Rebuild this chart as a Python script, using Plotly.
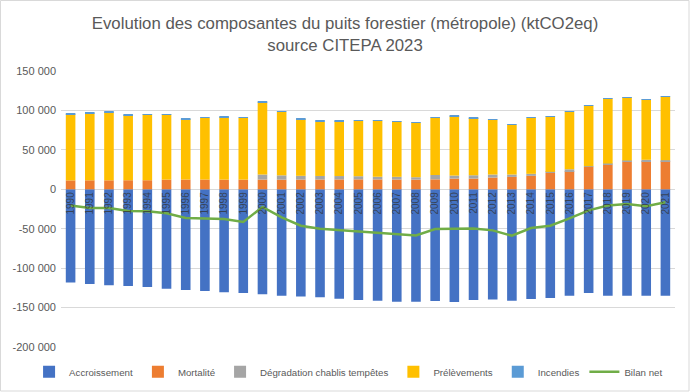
import plotly.graph_objects as go

years = [str(y) for y in range(1990, 2022)]

accroissement = [-118300, -120000, -121600, -122500, -123800, -126000, -127600, -128900,
                 -130500, -131400, -133100, -134900, -136100, -136900, -138700, -140300,
                 -141200, -142500, -142500, -141600, -142900, -140300, -139900, -141200,
                 -139100, -137800, -134900, -131400, -134900, -134900, -134900, -134900]
mortalite = [11300, 11400, 11400, 11500, 11500, 12300, 12400, 12400, 12300, 12300,
             12300, 12200, 12300, 12400, 12500, 12600, 12500, 12400, 12300, 12600,
             13600, 13600, 14900, 15700, 17000, 20800, 22900, 28500, 31400, 35200,
             35600, 35600]
degradation = [0, 0, 0, 0, 0, 0, 0, 0, 0, 0,
               6400, 5500, 4800, 4500, 4300, 4000, 3400, 3400, 3000, 5500,
               3800, 4200, 3800, 3000, 2600, 1300, 2500, 800, 1300, 1300, 1800, 1300]
prelevements = [83900, 84900, 86500, 82600, 83400, 82700, 76700, 78000, 79300, 78100,
                91500, 80500, 72000, 68600, 69600, 70100, 71000, 70300, 69200, 72700,
                75300, 72500, 69300, 62900, 70900, 70100, 72800, 76500, 82300, 80100,
                76400, 80600]
incendies = [700, 900, 600, 500, 500, 400, 400, 400, 500, 400,
             500, 600, 800, 1900, 600, 700, 500, 400, 300, 400,
             400, 500, 300, 300, 300, 300, 300, 300, 400, 400, 300, 400]
bilan_net = [-20700, -23700, -23700, -27500, -28000, -30500, -36400, -36900, -37700, -41500,
             -22400, -35600, -46200, -50000, -51700, -52500, -54700, -56700, -58500, -50400,
             -49600, -49600, -52100, -58900, -49100, -46200, -36900, -26700, -20700, -18600,
             -21600, -16500]

y_ticks = [-200000, -150000, -100000, -50000, 0, 50000, 100000, 150000]
y_tick_labels = ["-200\u00a0000", "-150\u00a0000", "-100\u00a0000", "-50\u00a0000", "0",
                 "50\u00a0000", "100\u00a0000", "150\u00a0000"]
y_range = [-200000, 150000]

title_text = ("Evolution des composantes du puits forestier (métropole) (ktCO2eq)"
              "<br>source CITEPA 2023")

FONT = "Liberation Sans"
GREY = "#595959"

fig = go.Figure()
series = [
    ("Accroissement", accroissement, "#4472C4"),
    ("Mortalité", mortalite, "#ED7D31"),
    ("Dégradation chablis tempêtes", degradation, "#A5A5A5"),
    ("Prélèvements", prelevements, "#FFC000"),
    ("Incendies", incendies, "#5B9BD5"),
]
for name, vals, col in series:
    fig.add_trace(go.Bar(x=years, y=vals, name=name, marker=dict(color=col, line=dict(width=0))))
fig.add_trace(go.Scatter(x=years, y=bilan_net, name="Bilan net", mode="lines",
                         line=dict(color="#70AD47", width=2.5)))

zero_pos = (0 - y_range[0]) / (y_range[1] - y_range[0])

fig.update_layout(
    width=690, height=392,
    margin=dict(l=61, r=15, t=71, b=45, autoexpand=False),
    paper_bgcolor="white", plot_bgcolor="white",
    barmode="relative", bargap=0.5,
    font=dict(family=FONT, size=11, color=GREY),
    title=dict(text=title_text, x=0.5, xref="container", xanchor="center",
               y=1 - 29 / 392, yref="container", yanchor="top",
               font=dict(family=FONT, size=16.8, color=GREY)),
    showlegend=True,
    legend=dict(orientation="h", x=-0.052, xanchor="left", y=-0.09, yanchor="middle",
                font=dict(family=FONT, size=9.7, color=GREY), traceorder="normal",
                itemwidth=30, tracegroupgap=0),
    xaxis=dict(type="category", anchor="free", position=zero_pos,
               tickangle=-90, showgrid=False, showline=False, ticks="",
               tickfont=dict(family=FONT, size=10, color="rgba(50,50,50,0.75)"),
               range=[-0.5, len(years) - 0.5], layer="above traces"),
    yaxis=dict(range=y_range, tickvals=y_ticks, ticktext=y_tick_labels,
               showgrid=True, gridcolor="#D9D9D9", gridwidth=1,
               zeroline=True, zerolinecolor="#D9D9D9", zerolinewidth=1,
               showline=False, ticks="", tickfont=dict(family=FONT, size=11, color=GREY),
               ticklabelstandoff=4),
)

fig.add_shape(type="rect", xref="paper", yref="paper",
              x0=-60.5 / 614, x1=1 + 14 / 614, y0=-44 / 276, y1=1 + 70.5 / 276,
              line=dict(color="#D9D9D9", width=1), fillcolor="rgba(0,0,0,0)", layer="below")

fig.write_html("out.html", config={"displayModeBar": False},
               post_script="document.body.style.margin='0';")
